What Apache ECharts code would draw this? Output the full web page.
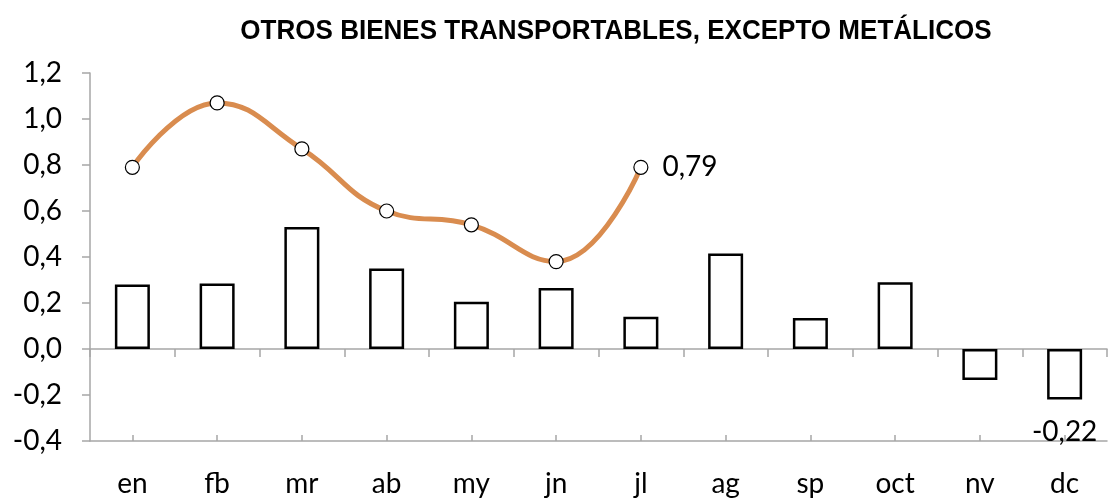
<!DOCTYPE html>
<html><head><meta charset="utf-8">
<script src="https://cdn.jsdelivr.net/npm/echarts@6/dist/echarts.min.js"></script>
<style>html,body{margin:0;padding:0;background:#fff}#c{width:1109px;height:500px}</style>
</head><body><div id="c"></div>
<script>
const categories = ['en','fb','mr','ab','my','jn','jl','ag','sp','oct','nv','dc'];
const barValues = [0.28,0.285,0.53,0.35,0.205,0.265,0.14,0.415,0.135,0.29,-0.135,-0.22];
const lineValues = [0.79,1.07,0.87,0.60,0.54,0.38,0.79,null,null,null,null,null];
const yTicks = [-0.4,-0.2,0,0.2,0.4,0.6,0.8,1.0,1.2];
const titleText = 'OTROS BIENES TRANSPORTABLES, EXCEPTO METÁLICOS';
const font = 'Lato, "Open Sans", sans-serif';
const fmt = v => v.toFixed(1).replace('.', ',');
const chart = echarts.init(document.getElementById('c'), null, {renderer:'canvas'});
chart.setOption({
  animation:false,
  graphic:[{type:'text',x:616,y:31,scaleX:0.93,
    style:{text:titleText,align:'center',verticalAlign:'middle',
      font:'bold 28px "Liberation Sans", Arial, sans-serif',fill:'#000'}}],
  grid:{left:90,right:2,top:73,bottom:59,containLabel:false},
  xAxis:[{type:'category',data:categories,position:'bottom',
    axisLine:{onZero:true,lineStyle:{color:'#a6a6a6',width:1.5}},
    axisTick:{show:true,alignWithLabel:false,length:8,lineStyle:{color:'#a6a6a6',width:1.5}},
    axisLabel:{show:false}},
   {type:'category',data:categories,position:'bottom',
    axisLine:{show:false,onZero:false},
    axisTick:{show:false},
    axisLabel:{show:true,interval:0,margin:29,fontFamily:font,fontSize:28,color:'#000'}},
   {type:'category',data:categories,position:'bottom',
    axisLine:{show:true,onZero:true,lineStyle:{color:'#a6a6a6',width:1.5}},
    axisTick:{show:true,inside:true,alignWithLabel:true,interval:0,length:6,lineStyle:{color:'#a6a6a6',width:1.5}},
    axisLabel:{show:false}}],
  yAxis:{type:'value',min:-0.4,max:1.2,interval:0.2,
    axisLine:{show:true,lineStyle:{color:'#a6a6a6',width:1.5}},
    axisTick:{show:true,length:8,lineStyle:{color:'#a6a6a6',width:1.5}},
    splitLine:{show:false},
    axisLabel:{fontFamily:font,fontSize:28,color:'#000',margin:28,formatter:fmt}},
  series:[
    {type:'bar',data:barValues,barWidth:35,xAxisIndex:0,
     itemStyle:{color:'#fff',borderColor:'#000',borderWidth:2.5},
     label:{show:true,position:'bottom',distance:18,fontFamily:font,fontSize:28,color:'#000',
       formatter:p=>p.dataIndex===11?p.value.toFixed(2).replace('.',','):''}},
    {type:'line',data:lineValues,smooth:0.45,xAxisIndex:0,symbol:'circle',symbolSize:14,
     lineStyle:{color:'#D98C4F',width:5},
     itemStyle:{color:'#fff',borderColor:'#000',borderWidth:1.2},
     label:{show:true,position:'right',distance:14,fontFamily:font,fontSize:28,color:'#000',
       formatter:p=>p.dataIndex===6?p.value.toFixed(2).replace('.',','):''},
     z:5}
  ]
});
</script></body></html>
